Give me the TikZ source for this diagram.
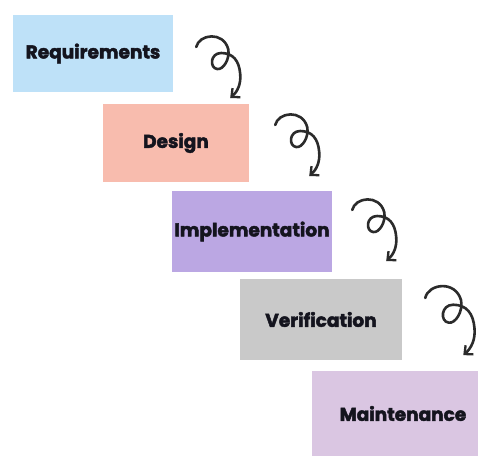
\documentclass[tikz,border=0pt]{standalone}
\usepackage{fontspec}
\setmainfont{Poppins}[BoldFont={* Bold}, BoldFeatures={FakeBold=2.4}]
\usetikzlibrary{arrows.meta}

\definecolor{reqblue}{HTML}{BEE1F8}
\definecolor{dessalmon}{HTML}{F8BCAE}
\definecolor{implav}{HTML}{BBA7E3}
\definecolor{vergray}{HTML}{C9C9C9}
\definecolor{mntmauve}{HTML}{DAC6E2}
\definecolor{inkdark}{HTML}{2B2B2B}
\definecolor{txtdark}{HTML}{14141E}

\tikzset{
  stagebox/.style={draw=none, inner sep=0pt, text=txtdark,
    font=\bfseries\fontsize{18.5}{21}\selectfont},
  curlline/.style={draw=inkdark, line width=2.6pt, line cap=round,
    -{Straight Barb[length=6.5pt,width=12pt,line width=2.3pt]}},
  curl/.pic={
    \draw[curlline] (0,0) .. controls (3,-13) and (27,-16) .. (32,2)
      .. controls (34,12) and (27,23) .. (21,22)
      .. controls (13,21) and (14,6) .. (25,6)
      .. controls (37,6) and (43,14) .. (44,27)
      .. controls (45,37) and (41,45) .. (34,51);
  }
}

\begin{document}
\begin{tikzpicture}[x=1pt, y=-1pt]
  \useasboundingbox[fill=white] (0,0) rectangle (478,456);

  % the five stages, stepping down to the right
  \node[stagebox, fill=reqblue, minimum width=160pt, minimum height=77pt]
    (req) at (93,53.5) {Requirements};
  \node[stagebox, fill=dessalmon, minimum width=146pt, minimum height=78pt]
    (des) at (176,143) {Design};
  \node[stagebox, fill=implav, minimum width=160pt, minimum height=81pt]
    (imp) at (252,231.5) {Implementation};
  \node[stagebox, fill=vergray, minimum width=162pt, minimum height=81pt]
    (ver) at (321,319.5) {Verification};
  \node[stagebox, fill=mntmauve, minimum width=166pt, minimum height=85pt]
    (mnt) at (395,413.5) {\hspace*{16pt}Maintenance};

  % curly arrows leading from one stage to the next
  \coordinate (c1) at ([shift={(23,-6.5)}]req.east);
  \coordinate (c2) at ([shift={(26,-18)}]des.east);
  \coordinate (c3) at ([shift={(20,-21.5)}]imp.east);
  \coordinate (c4) at ([shift={(23,-21.5)}]ver.east);
  \pic at (c1) {curl};
  \pic at (c2) {curl};
  \pic at (c3) {curl};
  \pic[scale=1.12] at (c4) {curl};
\end{tikzpicture}
\end{document}
